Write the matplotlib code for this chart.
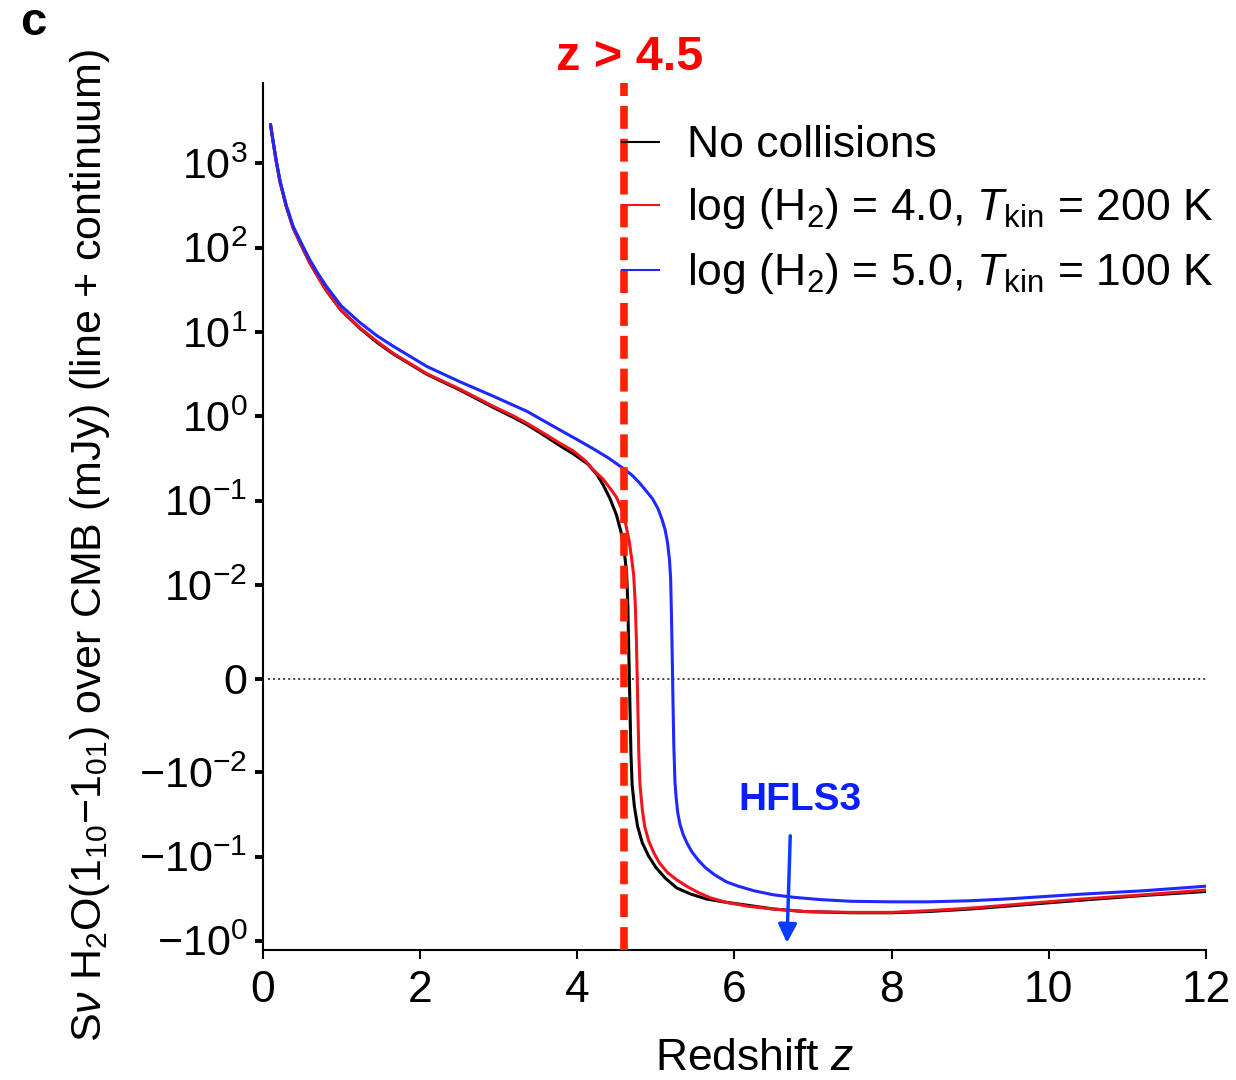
import matplotlib
matplotlib.use("Agg")
import matplotlib.pyplot as plt
from matplotlib.lines import Line2D
from matplotlib.ticker import FixedLocator, FixedFormatter

plt.rcParams["font.family"] = ["Liberation Sans", "DejaVu Sans"]
plt.rcParams["mathtext.fontset"] = "custom"
plt.rcParams["mathtext.rm"] = "Liberation Sans"
plt.rcParams["mathtext.it"] = "Liberation Sans:italic"
plt.rcParams["mathtext.bf"] = "Liberation Sans:bold"

# flux density over CMB (mJy) vs redshift
z_none = [0.10, 0.13, 0.17, 0.22, 0.30, 0.39, 0.50, 0.60, 0.70, 0.81, 1.00, 1.24, 1.45,
          1.66, 2.09, 2.51, 2.93, 3.20, 3.36, 3.60, 3.78, 3.95, 4.14, 4.25, 4.33, 4.42,
          4.50, 4.56, 4.60, 4.63, 4.645, 4.655, 4.665, 4.675, 4.685, 4.70, 4.73, 4.77,
          4.83, 4.91, 5.00, 5.12, 5.27, 5.45, 5.65, 5.90, 6.18, 6.50, 6.90, 7.49, 8.00,
          8.46, 9.00, 9.44, 10.41, 11.2, 12.0]
s_none = [2900, 1900, 1100, 610, 310, 170, 103, 66, 46, 31, 18, 11.0, 7.6,
          5.5, 3.15, 2.05, 1.28, 0.96, 0.80, 0.58, 0.45, 0.36, 0.27, 0.205, 0.155, 0.105,
          0.068, 0.042, 0.025, 0.014, 0.008, 0.004, 0.0, -0.004, -0.008, -0.014, -0.026, -0.044,
          -0.069, -0.099, -0.134, -0.18, -0.237, -0.28, -0.32, -0.35, -0.38, -0.42, -0.45, -0.465, -0.465,
          -0.45, -0.42, -0.39, -0.33, -0.29, -0.26]

z_h4 = [0.10, 0.13, 0.17, 0.22, 0.30, 0.39, 0.50, 0.60, 0.70, 0.81, 1.00, 1.24, 1.45,
        1.66, 2.09, 2.51, 2.93, 3.20, 3.36, 3.60, 3.78, 3.95, 4.10, 4.21, 4.33, 4.42,
        4.50, 4.57, 4.62, 4.66, 4.69, 4.72, 4.74, 4.755, 4.765, 4.775, 4.785, 4.80,
        4.83, 4.86, 4.91, 4.98, 5.05, 5.15, 5.27, 5.41, 5.55, 5.70, 5.90, 6.18, 6.50,
        6.90, 7.49, 8.00, 8.46, 9.00, 9.44, 10.41, 11.2, 12.0]
s_h4 = [2900, 1900, 1100, 610, 310, 170, 103, 66, 46, 31, 18, 11.2, 7.8,
        5.6, 3.2, 2.1, 1.32, 1.0, 0.83, 0.61, 0.48, 0.39, 0.30, 0.23, 0.18, 0.14,
        0.11, 0.078, 0.052, 0.034, 0.022, 0.013, 0.008, 0.004, 0.0, -0.004, -0.008, -0.014,
        -0.028, -0.044, -0.065, -0.092, -0.12, -0.155, -0.19, -0.23, -0.27, -0.31, -0.35, -0.39, -0.42,
        -0.45, -0.46, -0.46, -0.44, -0.41, -0.38, -0.32, -0.285, -0.25]

z_h5 = [0.10, 0.13, 0.17, 0.22, 0.30, 0.39, 0.50, 0.60, 0.70, 0.81, 1.00, 1.24, 1.45,
        1.66, 2.09, 2.51, 2.93, 3.36, 3.78, 4.00, 4.21, 4.40, 4.59, 4.70, 4.80, 4.88,
        4.96, 5.03, 5.08, 5.12, 5.15, 5.175, 5.19, 5.20, 5.21, 5.22, 5.23, 5.245, 5.26,
        5.28, 5.31, 5.35, 5.40, 5.46, 5.54, 5.63, 5.75, 5.90, 6.05, 6.25, 6.50, 6.76,
        7.10, 7.49, 8.00, 8.46, 9.00, 9.44, 10.41, 11.2, 12.0]
s_h5 = [2900, 1900, 1120, 630, 320, 178, 110, 72, 50, 35, 20.4, 12.9, 9.1,
        6.8, 3.9, 2.57, 1.74, 1.15, 0.69, 0.53, 0.41, 0.32, 0.24, 0.20, 0.16, 0.13,
        0.105, 0.08, 0.06, 0.045, 0.032, 0.02, 0.012, 0.007, 0.0025, -0.0025, -0.007, -0.013, -0.02,
        -0.03, -0.042, -0.055, -0.07, -0.088, -0.11, -0.135, -0.165, -0.20, -0.225, -0.255, -0.285, -0.305,
        -0.325, -0.34, -0.345, -0.345, -0.335, -0.32, -0.28, -0.255, -0.225]

labels = ["No collisions",
          r"log (H$_2$) = 4.0, $T_{\rm kin}$ = 200 K",
          r"log (H$_2$) = 5.0, $T_{\rm kin}$ = 100 K"]
colors = ["#000000", "#F0141E", "#1E28FF"]

xticks = [0, 2, 4, 6, 8, 10, 12]
yticks = [1e3, 1e2, 1e1, 1, 1e-1, 1e-2, 0, -1e-2, -1e-1, -1]
ytick_labels = [r"$\mathregular{10^{3}}$", r"$\mathregular{10^{2}}$", r"$\mathregular{10^{1}}$",
                r"$\mathregular{10^{0}}$", r"$\mathregular{10^{-1}}$", r"$\mathregular{10^{-2}}$",
                "0", r"$\mathregular{-10^{-2}}$", r"$\mathregular{-10^{-1}}$", r"$\mathregular{-10^{0}}$"]
z_cut = 4.6

fig = plt.figure(figsize=(12.36, 10.8), dpi=100)
ax = fig.add_axes([0.2125, 0.1204, 0.7632, 0.8027])

ax.set_yscale("symlog", linthresh=1e-2, linscale=1.0)
ax.set_xlim(0, 12)
ax.set_ylim(-1.285, 9000)

for z, s, c in zip([z_none, z_h4, z_h5], [s_none, s_h4, s_h5], colors):
    ax.plot(z, s, color=c, lw=2.2, solid_capstyle="round", solid_joinstyle="round")

ax.axhline(0, xmin=0.006, color="#444444", lw=1.4, ls=(0, (1, 1.6)), zorder=1)
ax.axvline(z_cut, color="#FF2200", lw=5.5, dashes=(3.0, 1.3), dash_capstyle="butt", zorder=5)

for sp in ["top", "right"]:
    ax.spines[sp].set_visible(False)
for sp in ["left", "bottom"]:
    ax.spines[sp].set_linewidth(1.5)

ax.xaxis.set_major_locator(FixedLocator(xticks))
ax.yaxis.set_major_locator(FixedLocator(yticks))
ax.yaxis.set_major_formatter(FixedFormatter(ytick_labels))
ax.yaxis.set_minor_locator(FixedLocator([]))
ax.tick_params(axis="x", direction="out", length=6.5, width=1.5, labelsize=32, pad=8)
ax.tick_params(axis="y", direction="out", length=6, width=2.8, labelsize=31, pad=5)

ax.set_xlabel("Redshift $z$", fontsize=32)
ax.xaxis.set_label_coords(0.522, -0.1015)
ax.set_ylabel(r"S$\nu$ H$_2$O(1$_{10}$$-$1$_{01}$) over CMB (mJy) (line + continuum)", fontsize=31)
ax.yaxis.set_label_coords(-0.16, 0.467)

handles = [Line2D([], [], color=c, lw=1.5) for c in colors]
ax.legend(handles, labels, loc="upper left", bbox_to_anchor=(0.381, 0.9515),
          frameon=False, fontsize=32, borderpad=0, borderaxespad=0,
          handlelength=0.83, handletextpad=0.64, labelspacing=0.45)

fig.text(0.016, 0.9676, "c", fontsize=34, fontweight="bold", va="baseline")
fig.text(0.5097, 0.935, "z > 4.5", fontsize=35, fontweight="bold", color="#FF0000",
         ha="center", va="baseline")
ax.text(0.5696, 0.1615, "HFLS3", transform=ax.transAxes, fontsize=28, fontweight="bold",
        color="#0A1EFF", ha="center", va="baseline")
ax.annotate("", xy=(0.5557, 0.005), xytext=(0.5594, 0.1349), xycoords="axes fraction",
            arrowprops=dict(arrowstyle="-|>", color="#0A3CFF", lw=2.5, mutation_scale=28))

fig.savefig("out.png", dpi=100, facecolor="white")
